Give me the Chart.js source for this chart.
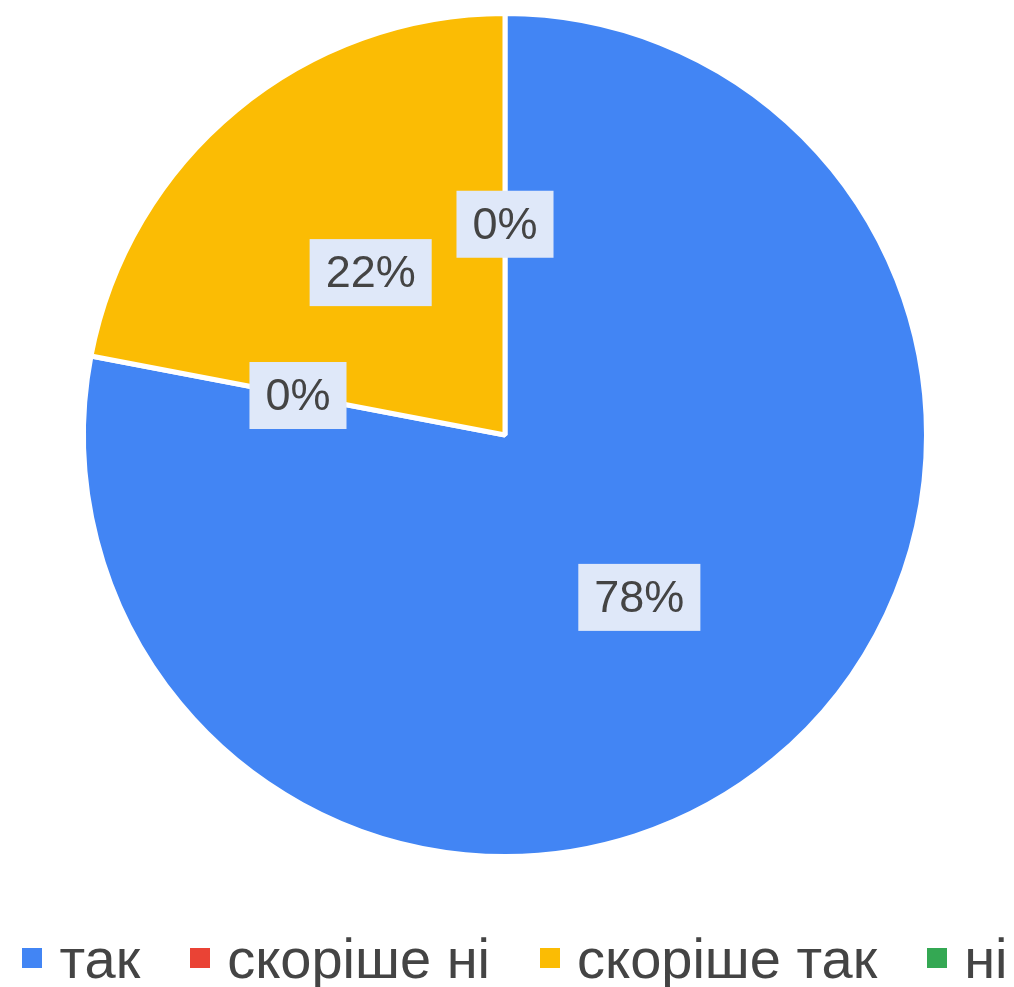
<!DOCTYPE html>
<html>
<head>
<meta charset="utf-8">
<script src="https://cdn.jsdelivr.net/npm/chart.js@4"></script>
<style>
  body { margin: 0; background: #fff; }
  #wrap { position: relative; width: 1014px; height: 987px; }
  #chart { position: absolute; left: 0; top: 0; }
  #legend {
    position: absolute; left: 0; top: 930px; width: 1014px; height: 56px;
    display: flex; justify-content: center; align-items: center;
    padding-left: 16px; box-sizing: border-box;
    font-family: "Liberation Sans", Arial, sans-serif; font-size: 56px; color: #444;
  }
  .item { display: flex; align-items: center; margin-right: 50px; white-space: nowrap; }
  .item:last-child { margin-right: 0; }
  .box { width: 20px; height: 20px; margin-right: 17px; position: relative; top: 0px; }
</style>
</head>
<body>
<div id="wrap">
  <canvas id="chart" width="1014" height="870"></canvas>
  <div id="legend"></div>
</div>
<script>
const labels = ["так", "скоріше ні", "скоріше так", "ні"];
const values = [78, 0, 22, 0];
const colors = ["#4285f4", "#ea4335", "#fbbc04", "#34a853"];

const total = values.reduce((a, b) => a + b, 0);

const sliceLabels = {
  id: "sliceLabels",
  afterDatasetsDraw(chart) {
    const ctx = chart.ctx;
    const meta = chart.getDatasetMeta(0);
    ctx.save();
    ctx.font = "45px 'Liberation Sans', Arial, sans-serif";
    ctx.textAlign = "center";
    ctx.textBaseline = "middle";
    meta.data.forEach((arc, i) => {
      const text = Math.round(values[i] / total * 100) + "%";
      const { x, y } = arc.tooltipPosition();
      const w = ctx.measureText(text).width + 32;
      const h = 67;
      ctx.fillStyle = "#dfe8f9";
      ctx.fillRect(x - w / 2, y - h / 2, w, h);
      ctx.fillStyle = "#444";
      ctx.fillText(text, x, y + 2);
    });
    ctx.restore();
  }
};

new Chart(document.getElementById("chart"), {
  type: "pie",
  data: {
    labels: labels,
    datasets: [{
      data: values,
      backgroundColor: colors,
      borderColor: "#fff",
      borderWidth: 5,
    }],
  },
  options: {
    responsive: false,
    animation: false,
    layout: { padding: { top: 11, bottom: 11, left: 0, right: 4 } },
    plugins: {
      legend: { display: false },
      tooltip: { enabled: false },
    },
  },
  plugins: [sliceLabels],
});

const legend = document.getElementById("legend");
labels.forEach((label, i) => {
  const item = document.createElement("div");
  item.className = "item";
  const box = document.createElement("span");
  box.className = "box";
  box.style.background = colors[i];
  const text = document.createElement("span");
  text.textContent = label;
  item.appendChild(box);
  item.appendChild(text);
  legend.appendChild(item);
});
</script>
</body>
</html>
